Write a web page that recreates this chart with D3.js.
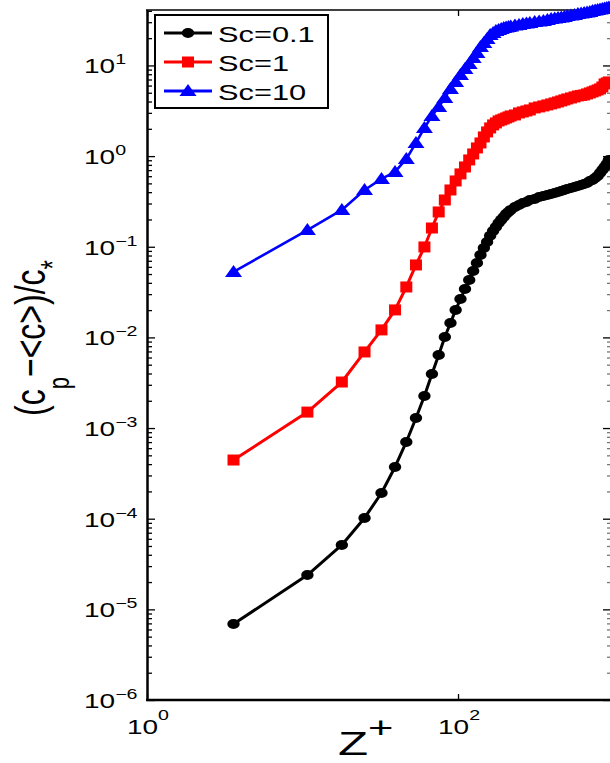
<!DOCTYPE html>
<html>
<head>
<meta charset="utf-8">
<script src="https://cdn.jsdelivr.net/npm/d3@7"></script>
<style>
  html, body { margin: 0; padding: 0; background: #fff; }
  svg { display: block; }
  text { font-family: "Liberation Sans", Arial, Helvetica, sans-serif; fill: #000; }
</style>
</head>
<body>
<svg id="chart" width="610" height="763"></svg>
<script>
// ---- data ----
const zPlus = [3.6, 10.75, 17.9, 25.05, 32.2, 39.35, 46.5, 53.65, 60.8, 67.95, 75.1, 82.25, 89.4, 96.55,
  103.7, 110.85, 118.0, 125.15, 132.3, 139.45, 146.6, 153.75, 160.9, 168.05, 175.2, 182.35, 189.5, 196.65,
  203.8, 210.95, 218.1, 232.4, 246.7, 261.0, 275.3, 289.6, 311.05, 332.5, 353.95, 375.4, 396.85, 418.3,
  439.75, 461.2, 482.65, 504.1, 532.7, 561.3, 589.9, 618.5, 647.1, 675.7, 704.3, 732.9, 761.5, 790.1,
  818.7, 847.3, 875.9, 904.5, 933.1];

const sc01 = [6.89e-6, 2.39e-5, 5.13e-5, 1.02e-4, 1.92e-4, 3.72e-4, 7.02e-4, 1.29e-3, 2.26e-3, 3.95e-3,
  6.40e-3, 1.01e-2, 1.44e-2, 2.01e-2, 2.65e-2, 3.42e-2, 4.30e-2, 5.41e-2, 6.63e-2, 8.12e-2, 9.70e-2,
  0.113, 0.132, 0.149, 0.165, 0.183, 0.198, 0.213, 0.230, 0.242, 0.255, 0.275, 0.289, 0.304, 0.312,
  0.328, 0.337, 0.354, 0.363, 0.373, 0.383, 0.392, 0.402, 0.413, 0.423, 0.434, 0.445, 0.457, 0.469,
  0.481, 0.493, 0.506, 0.532, 0.546, 0.574, 0.604, 0.652, 0.704, 0.759, 0.820, 0.907];

const sc1 = [4.44e-4, 1.50e-3, 3.22e-3, 6.91e-3, 1.21e-2, 2.01e-2, 3.60e-2, 6.30e-2, 0.0995, 0.161,
  0.242, 0.328, 0.423, 0.532, 0.636, 0.759, 0.907, 1.056, 1.230, 1.397, 1.627, 1.848, 2.045, 2.207,
  2.322, 2.443, 2.506, 2.570, 2.636, 2.704, 2.774, 2.845, 2.993, 3.070, 3.149, 3.230, 3.399, 3.486,
  3.576, 3.668, 3.763, 3.860, 3.959, 4.061, 4.166, 4.273, 4.383, 4.496, 4.611, 4.671, 4.730, 4.852,
  4.977, 5.105, 5.236, 5.371, 5.508, 5.794, 6.254, 6.415, 6.579];

const sc10 = [0.0527, 0.153, 0.255, 0.423, 0.560, 0.669, 0.930, 1.397, 2.045, 2.774, 3.486, 4.383,
  5.508, 6.579, 7.86, 9.16, 10.39, 12.11, 13.75, 16.01, 17.73, 19.62, 21.71, 22.85, 24.04, 24.66,
  25.29, 25.94, 26.28, 26.61, 26.95, 27.64, 27.99, 28.71, 29.08, 29.45, 30.20, 30.59, 30.98, 31.78,
  32.59, 33.01, 33.43, 33.86, 34.29, 35.17, 35.63, 36.09, 37.01, 37.49, 37.96, 38.46, 38.95, 39.95,
  40.46, 40.98, 41.50, 42.04, 42.57, 43.12, 43.66];

const seriesNames = ["Sc=0.1", "Sc=1", "Sc=10"];
const seriesValues = [sc01, sc1, sc10];

const xTickValues = [1, 100];
const xTickExponents = ["0", "2"];
const yTickValues = [1e-6, 1e-5, 1e-4, 1e-3, 1e-2, 1e-1, 1, 10];
const yTickExponents = ["\u22126", "\u22125", "\u22124", "\u22123", "\u22122", "\u22121", "0", "1"];

// ---- styles ----
const colors = ["#000000", "#ff0000", "#0000ff"];
const markerKinds = ["circle", "square", "triangle"];
const SX = 1.4; // horizontal stretch of the figure

const svg = d3.select("#chart");
svg.append("rect").attr("width", 610).attr("height", 763).attr("fill", "#fff");

const x = d3.scaleLog().domain([1, 935]).range([147, 609]);
const y = d3.scaleLog().domain([1e-6, 40.9]).range([700, 10]);

// minor ticks for y (2..9 x each decade)
const yMinor = [];
yTickValues.forEach(v => { for (let m = 2; m <= 9; m++) { const t = v * m; if (t < 40.9) yMinor.push(t); } });

function styleAxis(g, w) {
  g.selectAll("path.domain").attr("stroke", "#000").attr("stroke-width", w);
  g.selectAll(".tick line").attr("stroke", "#000").attr("stroke-width", 1.3);
  g.selectAll(".tick text").remove();
}

// left axis
const gl = svg.append("g").attr("transform", "translate(147,0)")
  .call(d3.axisLeft(y).tickValues(yTickValues).tickSizeInner(-8).tickSizeOuter(0).tickFormat(""));
styleAxis(gl, 2.5);
const glm = svg.append("g").attr("transform", "translate(147,0)")
  .call(d3.axisLeft(y).tickValues(yMinor).tickSizeInner(-5).tickSizeOuter(0).tickFormat(""));
styleAxis(glm, 0); glm.select("path.domain").remove();

// right axis (border just outside the picture)
const gr = svg.append("g").attr("transform", "translate(611,0)")
  .call(d3.axisRight(y).tickValues(yTickValues).tickSizeInner(-8).tickSizeOuter(0).tickFormat(""));
styleAxis(gr, 1.5);
const grm = svg.append("g").attr("transform", "translate(611,0)")
  .call(d3.axisRight(y).tickValues(yMinor).tickSizeInner(-4).tickSizeOuter(0).tickFormat(""));
styleAxis(grm, 0); grm.select("path.domain").remove();
grm.selectAll(".tick line").attr("stroke", "#777");

// bottom & top axes
const gb = svg.append("g").attr("transform", "translate(0,700)")
  .call(d3.axisBottom(x).tickValues(xTickValues).tickSizeInner(-6).tickSizeOuter(0).tickFormat(""));
styleAxis(gb, 2.5);
gb.select("path.domain").attr("d", "M146,0H611");
const gt = svg.append("g").attr("transform", "translate(0,10)")
  .call(d3.axisTop(x).tickValues(xTickValues).tickSizeInner(-6).tickSizeOuter(0).tickFormat(""));
styleAxis(gt, 1.6);
gt.select("path.domain").attr("d", "M146,0H611");

// y tick labels
yTickValues.forEach((v, i) => {
  const g = svg.append("g").attr("transform", `translate(84,${y(v) + 8}) scale(${SX},1)`);
  const t = g.append("text").attr("x", 0).attr("y", 0).attr("font-size", 20);
  t.append("tspan").text("10");
  t.append("tspan").attr("font-size", 14).attr("dy", -9).text(yTickExponents[i]);
});
// x tick labels
xTickValues.forEach((v, i) => {
  const g = svg.append("g").attr("transform", `translate(${x(v) + 1},734) scale(${SX},1)`);
  const t = g.append("text").attr("text-anchor", "middle").attr("font-size", 20);
  t.append("tspan").text("10");
  t.append("tspan").attr("font-size", 14).attr("dy", -14).text(xTickExponents[i]);
});

// axis titles
{
  const g = svg.append("g").attr("transform", `translate(338,755) scale(1.45,1)`);
  const t = g.append("text").attr("font-size", 34);
  t.append("tspan").text("Z");
  t.append("tspan").attr("font-size", 30).attr("dy", -17).text("+");
}
{
  const g = svg.append("g").attr("transform", `translate(45,338) scale(1.35,1) rotate(-90)`);
  const t = g.append("text").attr("text-anchor", "middle").attr("font-size", 32);
  t.append("tspan").text("(c");
  t.append("tspan").attr("font-size", 22).attr("dy", 18).text("p");
  t.append("tspan").attr("dy", -18).text("\u2212<c>)/c");
  t.append("tspan").attr("font-size", 24).attr("dy", 14).text("*");
}

// marker drawing
function drawMarker(sel, kind, color) {
  if (kind === "circle") {
    sel.append("ellipse").attr("rx", 6.2).attr("ry", 5).attr("fill", color);
  } else if (kind === "square") {
    sel.append("rect").attr("x", -6).attr("y", -5.5).attr("width", 12).attr("height", 11).attr("fill", color);
  } else {
    sel.append("path").attr("d", "M0,-7L8.5,5L-8.5,5Z").attr("fill", color);
  }
}

// series
const line = d3.line().x(d => x(d[0])).y(d => y(d[1]));
seriesValues.forEach((vals, si) => {
  const pts = zPlus.map((z, i) => [z, vals[i]]);
  const g = svg.append("g");
  g.append("path").datum(pts).attr("d", line).attr("fill", "none")
    .attr("stroke", colors[si]).attr("stroke-width", si === 2 ? 2.6 : 3).attr("stroke-linejoin", "round");
  g.selectAll("g.m").data(pts).enter().append("g").attr("class", "m")
    .attr("transform", d => `translate(${x(d[0])},${y(d[1])})`)
    .each(function () { drawMarker(d3.select(this), markerKinds[si], colors[si]); });
});

// legend
{
  const lg = svg.append("g");
  lg.append("rect").attr("x", 155).attr("y", 15).attr("width", 173).attr("height", 93)
    .attr("fill", "#fff").attr("stroke", "#000").attr("stroke-width", 2);
  const rowsY = [33, 62, 91];
  seriesNames.forEach((name, i) => {
    lg.append("line").attr("x1", 164).attr("x2", 212).attr("y1", rowsY[i]).attr("y2", rowsY[i])
      .attr("stroke", colors[i]).attr("stroke-width", 3);
    drawMarker(lg.append("g").attr("transform", `translate(188,${rowsY[i]})`), markerKinds[i], colors[i]);
    lg.append("g").attr("transform", `translate(218,${rowsY[i] + 8.5}) scale(${SX},1)`)
      .append("text").attr("font-size", 22).text(name);
  });
}
</script>
</body>
</html>
